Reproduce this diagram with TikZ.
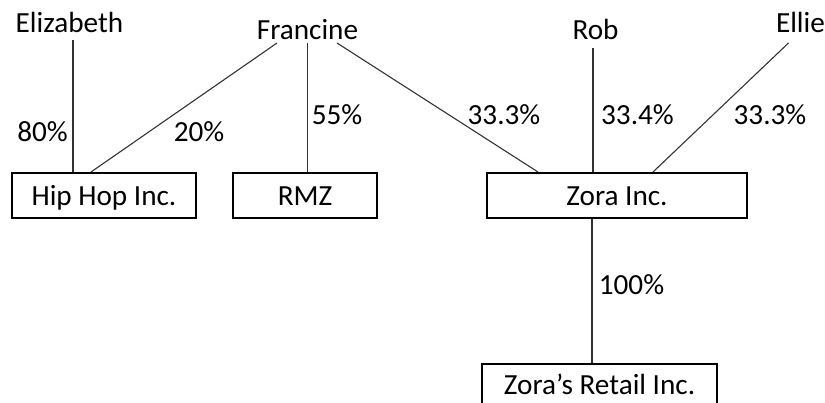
\documentclass[tikz,border=0pt]{standalone}
\usepackage{fontspec}
\setmainfont{Carlito}
\usetikzlibrary{calc}
\begin{document}
\begin{tikzpicture}[x=1pt,y=-1pt,
  every node/.style={font=\fontsize{29.2}{35}\selectfont},
  lbl/.style={inner sep=0pt,anchor=base},
  company/.style={draw=black,line width=2pt,inner sep=0pt,minimum height=45pt,text height=22pt,text depth=1pt},
  link/.style={draw=black!80,line width=1.1pt}]
\clip (0,0) rectangle (825,403);
\fill[white] (0,0) rectangle (825,403);
% people
\node[lbl] (eliz) at (69.5,33) {Elizabeth};
\node[lbl] (fran) at (307.5,40) {Francine};
\node[lbl] (rob) at (595.5,40) {Rob};
\node[lbl] (ellie) at (800.5,33) {Ellie};
% companies
\node[company,minimum width=184pt] (hiphop) at (104,195.5) {Hip Hop Inc.};
\node[company,minimum width=144pt] (rmz) at (305,195.5) {RMZ};
\node[company,minimum width=260pt] (zora) at (617,195.5) {Zora Inc.};
\node[company,minimum width=235pt,text height=19pt,text depth=2pt] (retail) at (599.5,386.5) {Zora’s Retail Inc.};
% percentages
\node[lbl] (p80) at (42.5,142) {80\%};
\node[lbl] (p20) at (199,142) {20\%};
\node[lbl] (p55) at (337,125) {55\%};
\node[lbl] (p333a) at (504,125) {33.3\%};
\node[lbl] (p334) at (637.5,125) {33.4\%};
\node[lbl] (p333b) at (770,125) {33.3\%};
\node[lbl] (p100) at (631.5,295) {100\%};
% connectors
\coordinate (e1) at ($(eliz.base)+(3.5,7)$);
\draw[link] (e1) -- (e1 |- hiphop.north);
\draw[link] ($(fran.base)+(-30.5,3)$) -- ($(hiphop.north)+(-13,0)$);
\coordinate (f1) at ($(fran.base)+(0,3)$);
\draw[link] (f1) -- (f1 |- rmz.north);
\draw[link] ($(fran.base)+(29.5,3)$) -- ($(zora.north)+(-79,0)$);
\coordinate (r1) at ($(rob.base)+(-2.5,8)$);
\draw[link] (r1) -- (r1 |- zora.north);
\draw[link] ($(ellie.base)+(-12,10)$) -- ($(zora.north)+(36,0)$);
\coordinate (z1) at ($(zora.south)+(-25,0)$);
\draw[link] (z1) -- (z1 |- retail.north);
\end{tikzpicture}
\end{document}
